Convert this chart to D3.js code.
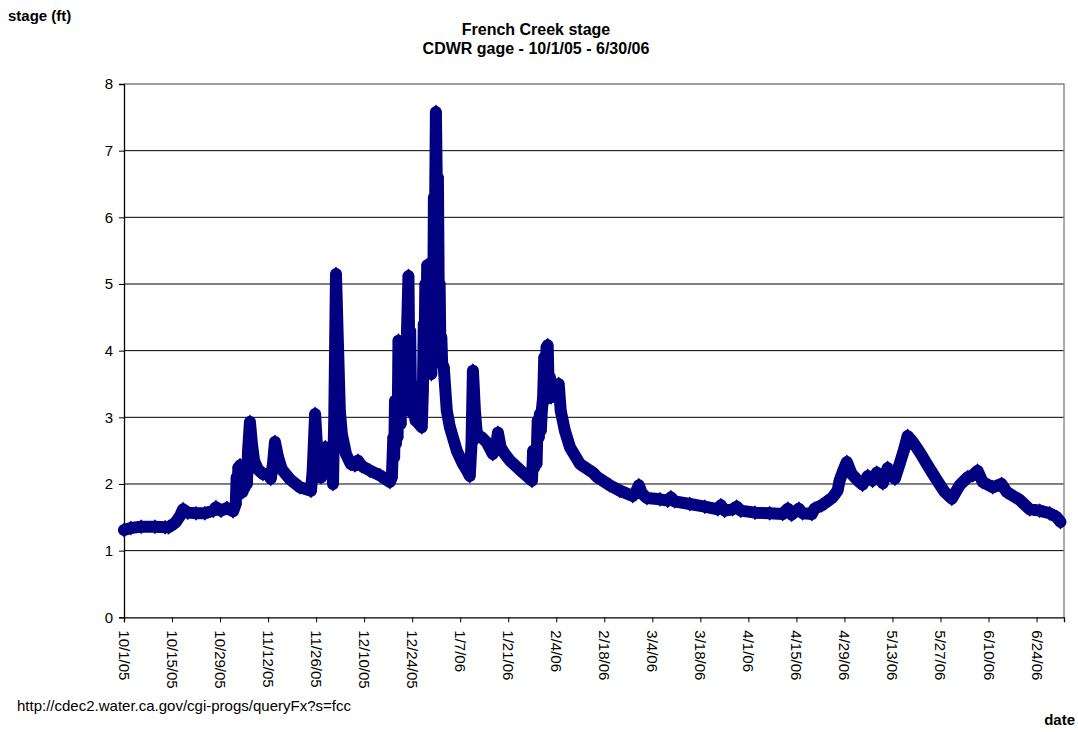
<!DOCTYPE html>
<html>
<head>
<meta charset="utf-8">
<script src="https://cdn.jsdelivr.net/npm/d3@7/dist/d3.min.js"></script>
<style>
  html, body { margin: 0; padding: 0; background: #fff; }
  svg { display: block; font-family: "Liberation Sans", Arial, sans-serif; }
</style>
</head>
<body>
<svg id="chart" width="1078" height="732"></svg>
<script>
// French Creek stage readings, CDWR gage (date "YYYY-MM-DD HH", stage in ft)
const readingTimes = [
  "2005-10-01 00","2005-10-03 00","2005-10-06 00","2005-10-10 00","2005-10-13 00","2005-10-14 00",
  "2005-10-16 00","2005-10-17 08","2005-10-18 05","2005-10-19 14","2005-10-22 00","2005-10-24 14",
  "2005-10-27 00","2005-10-27 19","2005-10-29 07","2005-10-31 00","2005-11-01 19","2005-11-02 14",
  "2005-11-02 20","2005-11-03 02","2005-11-03 08","2005-11-03 14","2005-11-03 20","2005-11-04 02",
  "2005-11-04 08","2005-11-04 14","2005-11-04 20","2005-11-05 04","2005-11-05 12","2005-11-05 20",
  "2005-11-06 04","2005-11-06 17","2005-11-07 07","2005-11-07 22","2005-11-09 00","2005-11-10 12",
  "2005-11-12 00","2005-11-12 19","2005-11-13 10","2005-11-14 00","2005-11-14 22","2005-11-16 00",
  "2005-11-18 10","2005-11-21 07","2005-11-24 12","2005-11-25 00","2005-11-25 17","2005-11-26 05",
  "2005-11-26 14","2005-11-27 02","2005-11-27 10","2005-11-27 20","2005-11-28 06","2005-11-28 16",
  "2005-11-29 00","2005-11-29 10","2005-11-29 20","2005-11-30 07","2005-11-30 18","2005-11-30 22",
  "2005-12-01 07","2005-12-01 19","2005-12-02 10","2005-12-02 22","2005-12-03 12","2005-12-04 17",
  "2005-12-06 02","2005-12-07 07","2005-12-08 05","2005-12-09 07","2005-12-11 17","2005-12-14 14",
  "2005-12-17 12","2005-12-18 02","2005-12-18 12","2005-12-18 18","2005-12-19 00","2005-12-19 06",
  "2005-12-19 12","2005-12-19 18","2005-12-20 00","2005-12-20 06","2005-12-20 10","2005-12-20 16",
  "2005-12-20 22","2005-12-21 04","2005-12-21 10","2005-12-21 16","2005-12-21 22","2005-12-22 06",
  "2005-12-22 12","2005-12-22 22","2005-12-23 04","2005-12-23 10","2005-12-23 16","2005-12-23 22",
  "2005-12-24 06","2005-12-24 12","2005-12-25 00","2005-12-25 17","2005-12-26 19","2005-12-27 03",
  "2005-12-27 09","2005-12-27 14","2005-12-27 20","2005-12-28 04","2005-12-28 09","2005-12-28 14",
  "2005-12-28 20","2005-12-29 02","2005-12-29 08","2005-12-29 14","2005-12-29 20","2005-12-30 02",
  "2005-12-30 08","2005-12-30 14","2005-12-30 22","2005-12-31 06","2005-12-31 12","2005-12-31 18",
  "2006-01-01 00","2006-01-01 06","2006-01-01 12","2006-01-01 18","2006-01-02 05","2006-01-03 02",
  "2006-01-04 00","2006-01-06 00","2006-01-07 19","2006-01-09 05","2006-01-09 19","2006-01-10 07",
  "2006-01-10 17","2006-01-11 07","2006-01-11 22","2006-01-13 07","2006-01-14 19","2006-01-16 12",
  "2006-01-17 10","2006-01-18 00","2006-01-18 19","2006-01-20 00","2006-01-21 12","2006-01-24 10",
  "2006-01-26 10","2006-01-27 22","2006-01-28 06","2006-01-28 14","2006-01-28 22","2006-01-29 06",
  "2006-01-29 14","2006-01-29 22","2006-01-30 05","2006-01-30 12","2006-01-30 19","2006-01-31 04",
  "2006-01-31 12","2006-01-31 18","2006-02-01 04","2006-02-01 12","2006-02-01 20","2006-02-02 04",
  "2006-02-02 12","2006-02-03 00","2006-02-04 05","2006-02-04 17","2006-02-05 07","2006-02-06 12",
  "2006-02-08 00","2006-02-10 22","2006-02-14 17","2006-02-15 19","2006-02-19 14","2006-02-22 12",
  "2006-02-26 07","2006-02-27 05","2006-02-28 02","2006-02-28 22","2006-03-02 10","2006-03-06 05",
  "2006-03-08 12","2006-03-09 10","2006-03-10 12","2006-03-14 22","2006-03-19 07","2006-03-23 02",
  "2006-03-24 00","2006-03-25 02","2006-03-27 10","2006-03-28 14","2006-03-29 19","2006-04-02 22",
  "2006-04-07 05","2006-04-11 00","2006-04-12 12","2006-04-13 14","2006-04-15 17","2006-04-16 19",
  "2006-04-19 12","2006-04-20 07","2006-04-22 10","2006-04-25 14","2006-04-27 00","2006-04-27 14",
  "2006-04-28 19","2006-04-29 17","2006-05-01 02","2006-05-02 22","2006-05-04 07","2006-05-05 19",
  "2006-05-07 05","2006-05-08 10","2006-05-10 05","2006-05-11 14","2006-05-13 17","2006-05-15 02",
  "2006-05-16 07","2006-05-17 10","2006-05-18 22","2006-05-20 00","2006-05-21 12","2006-05-23 00",
  "2006-05-25 22","2006-05-28 05","2006-05-30 07","2006-06-01 14","2006-06-03 22","2006-06-05 10",
  "2006-06-06 19","2006-06-08 07","2006-06-11 05","2006-06-13 19","2006-06-15 07","2006-06-19 02",
  "2006-06-22 00","2006-06-24 22","2006-06-27 19","2006-06-29 22","2006-06-30 23"
];

const stageFt = [
  1.31, 1.34, 1.36, 1.36, 1.35, 1.35,
  1.42, 1.52, 1.62, 1.57, 1.56, 1.56,
  1.60, 1.65, 1.60, 1.64, 1.59, 1.70,
  2.10, 1.85, 2.25, 1.85, 2.28, 1.90,
  2.20, 1.88, 2.10, 1.95, 2.30, 2.00,
  2.50, 2.93, 2.60, 2.35, 2.22, 2.15,
  2.15, 2.08, 2.30, 2.63, 2.40, 2.22,
  2.07, 1.95, 1.90, 2.20, 3.05, 2.60,
  2.15, 2.30, 2.10, 2.40, 2.20, 2.55,
  2.25, 2.50, 2.30, 2.45, 2.20, 2.00,
  3.00, 5.15, 4.00, 3.10, 2.75, 2.45,
  2.30, 2.28, 2.35, 2.27, 2.20, 2.13,
  2.03, 2.10, 2.70, 2.40, 3.25, 2.60,
  3.00, 2.70, 4.15, 3.00, 3.90, 2.90,
  4.00, 3.20, 3.50, 3.10, 3.60, 3.30,
  4.30, 5.12, 3.80, 4.30, 3.30, 3.50,
  3.05, 3.10, 2.95, 2.92, 2.85, 3.40,
  4.40, 3.90, 5.00, 4.10, 5.28, 3.80,
  4.90, 3.70, 4.60, 3.65, 5.00, 4.20,
  6.30, 5.50, 7.58, 6.20, 6.60, 4.80,
  5.00, 3.90, 4.20, 3.80, 3.75, 3.10,
  2.85, 2.50, 2.30, 2.18, 2.12, 2.60,
  3.70, 3.10, 2.70, 2.70, 2.62, 2.45,
  2.55, 2.77, 2.55, 2.45, 2.35, 2.21,
  2.12, 2.05, 2.50, 2.25, 2.50, 2.30,
  2.95, 2.70, 3.05, 2.80, 3.10, 3.30,
  3.90, 3.40, 4.05, 4.08, 3.30, 3.60,
  3.30, 3.45, 3.40, 3.50, 3.10, 2.80,
  2.55, 2.30, 2.17, 2.11, 1.98, 1.90,
  1.82, 1.88, 1.98, 1.86, 1.79, 1.77,
  1.75, 1.80, 1.74, 1.70, 1.66, 1.62,
  1.68, 1.60, 1.62, 1.66, 1.60, 1.57,
  1.56, 1.55, 1.63, 1.54, 1.63, 1.56,
  1.55, 1.63, 1.68, 1.80, 1.90, 2.05,
  2.22, 2.33, 2.15, 2.05, 1.99, 2.12,
  2.05, 2.17, 2.01, 2.24, 2.08, 2.30,
  2.50, 2.72, 2.63, 2.55, 2.43, 2.30,
  2.06, 1.88, 1.78, 1.98, 2.10, 2.13,
  2.20, 2.03, 1.95, 2.00, 1.88, 1.76,
  1.62, 1.60, 1.56, 1.50, 1.43
];

const tickLabels = [
  "10/1/05","10/15/05","10/29/05","11/12/05","11/26/05","12/10/05","12/24/05",
  "1/7/06","1/21/06","2/4/06","2/18/06","3/4/06","3/18/06","4/1/06","4/15/06",
  "4/29/06","5/13/06","5/27/06","6/10/06","6/24/06"
];
const stageTicks = [0, 1, 2, 3, 4, 5, 6, 7, 8];

const titleLines = ["French Creek stage", "CDWR gage - 10/1/05 - 6/30/06"];
const sourceNote = "http://cdec2.water.ca.gov/cgi-progs/queryFx?s=fcc";

// ---- layout ----
const svg = d3.select("#chart");
const plot = { left: 124, top: 84, right: 1064, bottom: 617.3 };
const navy = "#000080";
const font = 15;

const parseTime = d3.timeParse("%Y-%m-%d %H");
const parseTick = s => {
  const [m, d, yy] = s.split("/").map(Number);
  return new Date(2000 + yy, m - 1, d);
};

const data = readingTimes.map((t, i) => ({ date: parseTime(t), value: stageFt[i] }));

const x = d3.scaleTime()
  .domain([new Date(2005, 9, 1), new Date(2006, 6, 2)])
  .range([plot.left, plot.right]);
const y = d3.scaleLinear()
  .domain([0, 8])
  .range([plot.bottom, plot.top]);

// horizontal gridlines
svg.append("g")
  .selectAll("line")
  .data(stageTicks.filter(v => v > 0 && v < 8))
  .join("line")
  .attr("x1", plot.left).attr("x2", plot.right)
  .attr("y1", d => y(d)).attr("y2", d => y(d))
  .attr("stroke", "#000").attr("stroke-width", 1);

// plot area frame (top and right)
svg.append("path")
  .attr("d", `M${plot.left},${y(8)}H${plot.right}V${plot.bottom}`)
  .attr("fill", "none").attr("stroke", "#808080").attr("stroke-width", 1.3);

// y axis
const yAxis = svg.append("g")
  .attr("transform", `translate(${plot.left},0)`)
  .call(d3.axisLeft(y).tickValues(stageTicks).tickFormat(d3.format("d")).tickSize(5).tickPadding(6));
yAxis.select(".domain").attr("stroke", "#000").attr("stroke-width", 1.3);
yAxis.selectAll(".tick line").attr("stroke", "#000");
yAxis.selectAll(".tick text")
  .attr("font-size", font).attr("font-family", "Liberation Sans, Arial, sans-serif").attr("fill", "#000");

// x axis
const tickDates = tickLabels.map(parseTick);
const xAxis = svg.append("g")
  .attr("transform", `translate(0,${plot.bottom})`)
  .call(d3.axisBottom(x).tickValues(tickDates).tickFormat((d, i) => tickLabels[i]).tickSize(5));
xAxis.select(".domain").attr("stroke", "#000").attr("stroke-width", 1.3);
xAxis.selectAll(".tick line").attr("stroke", "#000");
xAxis.selectAll(".tick text")
  .attr("font-size", font).attr("font-family", "Liberation Sans, Arial, sans-serif").attr("fill", "#000")
  .attr("text-anchor", "start")
  .attr("dy", null)
  .attr("y", 0)
  .attr("dominant-baseline", "central")
  .attr("transform", "translate(0,13) rotate(90)");

// stage series: heavy line with diamond markers
const line = d3.line().x(d => x(d.date)).y(d => y(d.value));
const series = svg.append("g");
series.append("path")
  .datum(data)
  .attr("d", line)
  .attr("fill", "none")
  .attr("stroke", navy)
  .attr("stroke-width", 12)
  .attr("stroke-linejoin", "round")
  .attr("stroke-linecap", "round");
series.selectAll("path.mk")
  .data(data)
  .join("path")
  .attr("class", "mk")
  .attr("d", "M0,-7.5L6,0L0,7.5L-6,0Z")
  .attr("transform", d => `translate(${x(d.date)},${y(d.value)})`)
  .attr("fill", navy);

// titles and notes
svg.append("text")
  .attr("x", 8).attr("y", 21)
  .attr("font-size", font).attr("font-weight", "bold")
  .text("stage (ft)");

svg.append("g").selectAll("text")
  .data(titleLines)
  .join("text")
  .attr("x", 536).attr("y", (d, i) => 35 + i * 19)
  .attr("text-anchor", "middle")
  .attr("font-size", 16).attr("font-weight", "bold")
  .text(d => d);

svg.append("text")
  .attr("x", 17).attr("y", 711)
  .attr("font-size", font)
  .text(sourceNote);

svg.append("text")
  .attr("x", 1075).attr("y", 725)
  .attr("text-anchor", "end")
  .attr("font-size", font).attr("font-weight", "bold")
  .text("date");
</script>
</body>
</html>
